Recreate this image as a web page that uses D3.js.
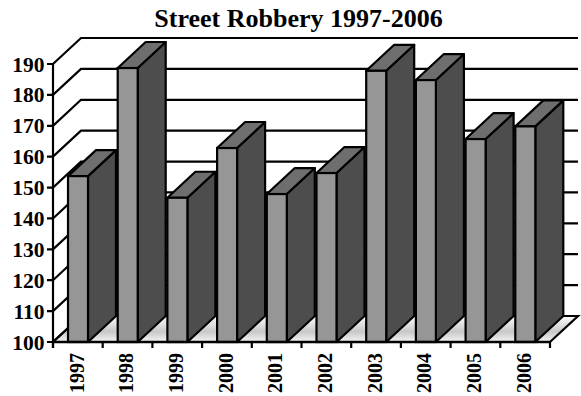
<!DOCTYPE html>
<html><head><meta charset="utf-8">
<script src="https://cdn.jsdelivr.net/npm/d3@7"></script>
<style>html,body{margin:0;padding:0;background:#fff}svg{display:block}text{font-family:"Liberation Serif",serif;font-weight:bold;fill:#000}</style>
</head><body><svg id="c" width="581" height="396"></svg>
<script>
const titleText = "Street Robbery 1997-2006";
const years = ["1997","1998","1999","2000","2001","2002","2003","2004","2005","2006"];
const robberies = [153.7,188.7,146.7,162.8,147.9,154.7,187.8,184.8,165.7,169.8];
const yTicks = [100,110,120,130,140,150,160,170,180,190];

const svg = d3.select("#c");
const depthX = 28, depthY = 26, lw = 2.2;
const x = d3.scaleBand().domain(years).range([53,550]);
const y = d3.scaleLinear().domain([100,190]).range([342,64]);
const barW = 20, barOff = 15;

const grad = svg.append("defs").append("linearGradient").attr("id","floor").attr("x1",0).attr("y1",0).attr("x2",0).attr("y2",1);
grad.append("stop").attr("offset",0).attr("stop-color","#fdfdfd");
grad.append("stop").attr("offset",0.6).attr("stop-color","#c8c8c8");
grad.append("stop").attr("offset",1).attr("stop-color","#f4f4f4");

const line = d3.line();
const x0=x.range()[0], x1=x.range()[1], y0=y(100);

// floor
svg.append("path").attr("d",line([[x0,y0],[x1,y0],[x1+depthX,y0-depthY],[x0+depthX,y0-depthY]])+"Z")
  .attr("fill","url(#floor)").attr("stroke","#000").attr("stroke-width",lw);

// gridlines on left and back walls
svg.append("g").selectAll("path").data(yTicks).join("path")
  .attr("d",d=>line([[x0-6,y(d)],[x0,y(d)],[x0+depthX,y(d)-depthY],[x1+depthX,y(d)-depthY]]))
  .attr("fill","none").attr("stroke","#000").attr("stroke-width",lw);
svg.append("path").attr("d",line([[x0,y(190)],[x0,y0+6]])).attr("fill","none").attr("stroke","#000").attr("stroke-width",lw);

// bars
const bars = svg.append("g").selectAll("g").data(years).join("g");
const bx = d=>x(d)+barOff;
const val = d=>y(robberies[years.indexOf(d)]);
bars.append("path").attr("fill","#4d4d4d").attr("stroke","#000").attr("stroke-width",lw).attr("stroke-linejoin","round")
  .attr("d",d=>line([[bx(d)+barW,y0],[bx(d)+barW+depthX,y0-depthY],[bx(d)+barW+depthX,val(d)-depthY],[bx(d)+barW,val(d)]])+"Z");
bars.append("path").attr("fill","#6e6e6e").attr("stroke","#000").attr("stroke-width",lw).attr("stroke-linejoin","round")
  .attr("d",d=>line([[bx(d),val(d)],[bx(d)+depthX,val(d)-depthY],[bx(d)+barW+depthX,val(d)-depthY],[bx(d)+barW,val(d)]])+"Z");
bars.append("rect").attr("fill","#969696").attr("stroke","#000").attr("stroke-width",lw)
  .attr("x",d=>bx(d)).attr("y",d=>val(d)).attr("width",barW).attr("height",d=>y0-val(d));

// axes baseline and x ticks
svg.append("path").attr("d",line([[x0,y0],[x1,y0]])).attr("stroke","#000").attr("stroke-width",lw+0.3);
svg.append("g").selectAll("path").data(d3.range(years.length+1)).join("path")
  .attr("d",i=>line([[x0+i*x.step(),y0],[x0+i*x.step(),y0+6]])).attr("stroke","#000").attr("stroke-width",lw);

// labels
svg.append("g").selectAll("text").data(yTicks).join("text")
  .attr("x",x0-8.5).attr("y",d=>y(d)+7.5).attr("text-anchor","end").attr("font-size",21.5).text(d=>d);
svg.append("g").selectAll("text").data(years).join("text")
  .attr("transform",d=>`translate(${x(d)+30.5},353) rotate(-90)`)
  .attr("text-anchor","end").attr("font-size",20).text(d=>d);
svg.append("text").attr("x",298.5).attr("y",27).attr("text-anchor","middle").attr("font-size",26).text(titleText);
</script></body></html>
